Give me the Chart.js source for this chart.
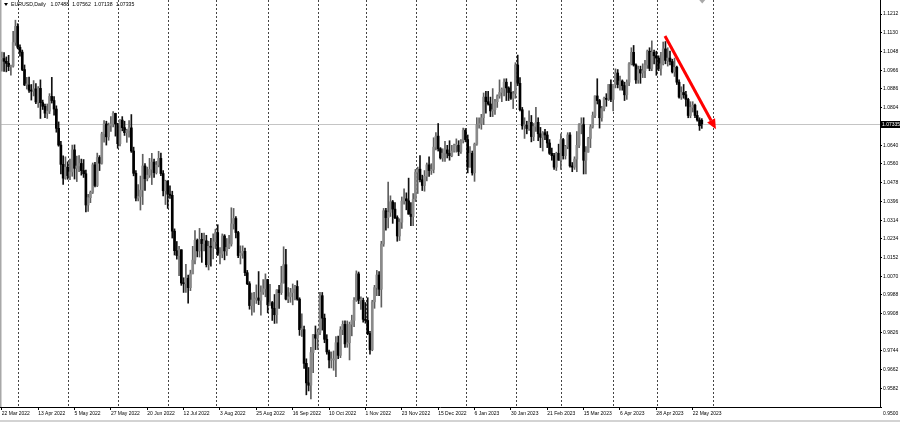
<!DOCTYPE html>
<html lang="en">
<head>
<meta charset="UTF-8">
<title>EURUSD, Daily</title>
<script src="https://cdn.jsdelivr.net/npm/chart.js"></script>
<style>
  body { margin: 0; background: #fff; }
  canvas { display: block; }
</style>
</head>
<body>
<canvas id="chart" width="900" height="422"></canvas>
<script>
// EURUSD daily bars, 22 Mar 2022 .. 26 May 2023 (309 bars)
const symbol = 'EURUSD,Daily';
const dateLabels = ['22 Mar 2022', '13 Apr 2022', '5 May 2022', '27 May 2022', '20 Jun 2022', '12 Jul 2022',
  '3 Aug 2022', '25 Aug 2022', '16 Sep 2022', '10 Oct 2022', '1 Nov 2022', '23 Nov 2022', '15 Dec 2022',
  '6 Jan 2023', '30 Jan 2023', '21 Feb 2023', '15 Mar 2023', '6 Apr 2023', '28 Apr 2023', '22 May 2023'];
const barsPerLabel = 16;

const opens = [
  1.1016,1.1018,1.1006,1.0997,1.0983,1.0985,1.1088,1.1158,1.1067,1.1046,
  1.0970,1.0903,1.0903,1.0880,1.0876,1.0886,1.0829,1.0888,1.0826,1.0810,
  1.0780,1.0789,1.0853,1.0835,1.0798,1.0714,1.0641,1.0557,1.0497,1.0545,
  1.0508,1.0524,1.0620,1.0540,1.0550,1.0561,1.0530,1.0516,1.0380,1.0412,
  1.0435,1.0555,1.0465,1.0587,1.0562,1.0690,1.0733,1.0677,1.0726,1.0733,
  1.0779,1.0733,1.0647,1.0750,1.0717,1.0695,1.0705,1.0716,1.0615,1.0518,
  1.0410,1.0417,1.0445,1.0550,1.0495,1.0510,1.0535,1.0567,1.0521,1.0554,
  1.0583,1.0517,1.0442,1.0484,1.0427,1.0422,1.0266,1.0181,1.0160,1.0185,
  1.0040,1.0037,1.0061,1.0020,1.0080,1.0140,1.0226,1.0180,1.0230,1.0212,
  1.0224,1.0120,1.0200,1.0196,1.0220,1.0260,1.0163,1.0166,1.0245,1.0180,
  1.0195,1.0210,1.0298,1.0321,1.0260,1.0160,1.0170,1.0178,1.0085,1.0037,
  0.9942,0.9966,0.9967,0.9975,0.9965,1.0000,1.0015,1.0055,0.9945,0.9955,
  0.9930,0.9902,1.0010,0.9998,1.0040,1.0120,0.9970,0.9980,0.9998,1.0015,
  1.0025,0.9970,0.9837,0.9837,0.9690,0.9605,0.9595,0.9737,0.9815,0.9800,
  0.9825,0.9985,0.9887,0.9795,0.9740,0.9705,0.9705,0.9705,0.9780,0.9725,
  0.9837,0.9860,0.9775,0.9780,0.9860,0.9877,0.9965,1.0080,0.9965,0.9965,
  0.9882,0.9877,0.9820,0.9750,0.9958,1.0020,1.0075,1.0013,1.0210,1.0355,
  1.0325,1.0348,1.0394,1.0362,1.0325,1.0245,1.0305,1.0397,1.0407,1.0398,
  1.0340,1.0330,1.0405,1.0523,1.0536,1.0490,1.0465,1.0505,1.0555,1.0530,
  1.0535,1.0632,1.0680,1.0625,1.0585,1.0606,1.0620,1.0605,1.0595,1.0615,
  1.0640,1.0640,1.0613,1.0660,1.0705,1.0665,1.0545,1.0605,1.0520,1.0645,
  1.0730,1.0735,1.0760,1.0850,1.0830,1.0820,1.0790,1.0795,1.0830,1.0855,
  1.0870,1.0885,1.0915,1.0890,1.0870,1.0845,1.0865,1.0990,1.0910,1.0795,
  1.0725,1.0728,1.0713,1.0740,1.0678,1.0722,1.0740,1.0690,1.0675,1.0695,
  1.0685,1.0650,1.0605,1.0595,1.0545,1.0605,1.0575,1.0665,1.0595,1.0635,
  1.0685,1.0550,1.0545,1.0580,1.0640,1.0730,1.0730,1.0575,1.0610,1.0670,
  1.0720,1.0770,1.0855,1.0835,1.0760,1.0800,1.0845,1.0840,1.0905,1.0840,
  1.0905,1.0955,1.0905,1.0920,1.0900,1.0860,1.0915,1.0995,1.1045,1.0990,
  1.0925,1.0970,1.0955,1.0965,1.0990,1.1050,1.0975,1.1045,1.1030,1.1020,
  1.0975,1.0995,1.1060,1.1010,1.1020,1.1005,1.0960,1.0980,1.0915,1.0850,
  1.0870,1.0860,1.0840,1.0770,1.0805,1.0815,1.0770,1.0750,1.07488
];
const highs = [
  1.1046,1.1044,1.1025,1.1032,1.0990,1.1137,1.1185,1.1170,1.1078,1.1055,
  1.0990,1.0936,1.0937,1.0905,1.0922,1.0909,1.0896,1.0925,1.0837,1.0820,
  1.0820,1.0865,1.0936,1.0852,1.0812,1.0742,1.0657,1.0594,1.0590,1.0568,
  1.0580,1.0641,1.0642,1.0593,1.0595,1.0580,1.0578,1.0532,1.0426,1.0441,
  1.0563,1.0566,1.0606,1.0595,1.0697,1.0748,1.0745,1.0737,1.0765,1.0787,
  1.0780,1.0736,1.0752,1.0765,1.0745,1.0710,1.0748,1.0774,1.0632,1.0530,
  1.0469,1.0506,1.0601,1.0560,1.0545,1.0583,1.0605,1.0580,1.0570,1.0614,
  1.0606,1.0530,1.0488,1.0486,1.0464,1.0440,1.0276,1.0221,1.0200,1.0185,
  1.0063,1.0122,1.0075,1.0096,1.0200,1.0269,1.0232,1.0278,1.0257,1.0258,
  1.0248,1.0222,1.0235,1.0254,1.0275,1.0294,1.0195,1.0254,1.0251,1.0234,
  1.0248,1.0368,1.0365,1.0330,1.0265,1.0202,1.0202,1.0192,1.0095,1.0046,
  0.9997,0.9999,1.0032,1.0090,1.0028,1.0055,1.0080,1.0056,1.0034,0.9960,
  0.9990,1.0011,1.0030,1.0113,1.0198,1.0187,1.0020,1.0017,1.0036,1.0030,
  1.0050,0.9976,0.9906,0.9852,0.9710,0.9672,0.9760,0.9817,0.9853,0.9840,
  0.9999,0.9999,0.9905,0.9815,0.9748,0.9740,0.9744,0.9807,0.9809,0.9850,
  0.9875,0.9875,0.9875,0.9870,0.9900,0.9977,1.0093,1.0088,0.9980,0.9975,
  0.9955,0.9976,0.9830,0.9965,1.0030,1.0095,1.0090,1.0222,1.0365,1.0365,
  1.0480,1.0420,1.0400,1.0390,1.0333,1.0320,1.0415,1.0450,1.0433,1.0497,
  1.0390,1.0430,1.0535,1.0545,1.0595,1.0510,1.0530,1.0563,1.0590,1.0560,
  1.0673,1.0695,1.0735,1.0630,1.0625,1.0657,1.0640,1.0660,1.0640,1.0645,
  1.0668,1.0660,1.0665,1.0715,1.0713,1.0685,1.0635,1.0615,1.0650,1.0760,
  1.0760,1.0775,1.0868,1.0875,1.0875,1.0850,1.0887,1.0840,1.0860,1.0925,
  1.0890,1.0930,1.0930,1.0895,1.0915,1.0875,1.1000,1.1033,1.0935,1.0805,
  1.0760,1.0745,1.0790,1.0770,1.0735,1.0805,1.0760,1.0718,1.0700,1.0710,
  1.0700,1.0665,1.0628,1.0605,1.0610,1.0645,1.0690,1.0670,1.0640,1.0695,
  1.0695,1.0565,1.0590,1.0700,1.0735,1.0760,1.0760,1.0635,1.0675,1.0730,
  1.0785,1.0855,1.0930,1.0840,1.0810,1.0850,1.0865,1.0905,1.0925,1.0905,
  1.0973,1.0970,1.0942,1.0925,1.0915,1.0925,1.1000,1.1065,1.1075,1.0995,
  1.0985,1.0985,1.0995,1.1010,1.1055,1.1065,1.1095,1.1055,1.1050,1.1030,
  1.1045,1.1090,1.1092,1.1065,1.1050,1.1015,1.1020,1.0985,1.0925,1.0895,
  1.0905,1.0875,1.0845,1.0830,1.0830,1.0820,1.0790,1.0760,1.07562
];
const lows = [
  1.0963,1.0962,1.0960,1.0965,1.0945,1.0980,1.1075,1.1060,1.1028,1.0965,
  1.0900,1.0885,1.0870,1.0837,1.0855,1.0821,1.0805,1.0757,1.0796,1.0760,
  1.0757,1.0778,1.0824,1.0771,1.0697,1.0636,1.0515,1.0470,1.0492,1.0492,
  1.0490,1.0505,1.0493,1.0482,1.0525,1.0510,1.0500,1.0350,1.0352,1.0390,
  1.0430,1.0459,1.0460,1.0530,1.0558,1.0654,1.0641,1.0662,1.0700,1.0720,
  1.0680,1.0627,1.0637,1.0703,1.0683,1.0653,1.0675,1.0609,1.0507,1.0398,
  1.0398,1.0358,1.0382,1.0444,1.0485,1.0500,1.0469,1.0500,1.0515,1.0546,
  1.0508,1.0420,1.0382,1.0365,1.0409,1.0236,1.0162,1.0144,1.0072,1.0030,
  0.9999,0.9999,0.9952,1.0007,1.0080,1.0123,1.0154,1.0153,1.0130,1.0180,
  1.0110,1.0097,1.0113,1.0145,1.0190,1.0160,1.0123,1.0150,1.0141,1.0160,
  1.0190,1.0201,1.0275,1.0237,1.0150,1.0123,1.0148,1.0072,1.0033,0.9926,
  0.9900,0.9913,0.9951,0.9946,0.9900,0.9990,0.9980,0.9910,0.9942,0.9877,
  0.9864,0.9865,0.9929,0.9990,1.0040,0.9966,0.9955,0.9956,0.9945,0.9967,
  0.9965,0.9812,0.9807,0.9668,0.9553,0.9570,0.9535,0.9650,0.9750,0.9750,
  0.9815,0.9835,0.9780,0.9730,0.9670,0.9670,0.9660,0.9632,0.9710,0.9715,
  0.9815,0.9760,0.9760,0.9705,0.9810,0.9850,0.9960,0.9950,0.9925,0.9870,
  0.9865,0.9815,0.9730,0.9745,0.9930,0.9985,0.9985,0.9935,1.0200,1.0270,
  1.0280,1.0330,1.0300,1.0320,1.0222,1.0225,1.0278,1.0384,1.0359,1.0340,
  1.0290,1.0290,1.0395,1.0430,1.0480,1.0443,1.0440,1.0485,1.0505,1.0513,
  1.0520,1.0620,1.0615,1.0580,1.0570,1.0570,1.0585,1.0575,1.0590,1.0610,
  1.0610,1.0595,1.0605,1.0650,1.0655,1.0520,1.0545,1.0510,1.0483,1.0640,
  1.0715,1.0710,1.0730,1.0780,1.0815,1.0765,1.0765,1.0775,1.0805,1.0845,
  1.0830,1.0855,1.0835,1.0835,1.0840,1.0800,1.0845,1.0900,1.0790,1.0710,
  1.0670,1.0690,1.0705,1.0655,1.0660,1.0700,1.0660,1.0630,1.0615,1.0665,
  1.0630,1.0600,1.0575,1.0535,1.0530,1.0575,1.0535,1.0580,1.0580,1.0625,
  1.0545,1.0525,1.0535,1.0525,1.0630,1.0690,1.0515,1.0515,1.0610,1.0630,
  1.0715,1.0760,1.0820,1.0715,1.0745,1.0790,1.0810,1.0835,1.0830,1.0790,
  1.0890,1.0890,1.0880,1.0880,1.0835,1.0840,1.0900,1.0990,1.0985,1.0910,
  1.0910,1.0910,1.0935,1.0935,1.0975,1.0965,1.0965,1.0995,1.0945,1.0965,
  1.0945,1.0990,1.0995,1.0985,1.0990,1.0955,1.0940,1.0905,1.0845,1.0840,
  1.0845,1.0810,1.0760,1.0760,1.0785,1.0760,1.0745,1.0705,1.07138
];
const closes = [
  1.1018,1.1006,1.0997,1.0983,1.0985,1.1088,1.1158,1.1067,1.1046,1.0970,
  1.0903,1.0903,1.0880,1.0876,1.0886,1.0829,1.0888,1.0826,1.0810,1.0780,
  1.0789,1.0853,1.0835,1.0798,1.0714,1.0641,1.0557,1.0497,1.0545,1.0508,
  1.0524,1.0620,1.0540,1.0550,1.0561,1.0530,1.0516,1.0380,1.0412,1.0435,
  1.0555,1.0465,1.0587,1.0562,1.0690,1.0733,1.0677,1.0726,1.0733,1.0779,
  1.0733,1.0647,1.0750,1.0717,1.0695,1.0705,1.0716,1.0615,1.0518,1.0410,
  1.0417,1.0445,1.0550,1.0495,1.0510,1.0535,1.0567,1.0521,1.0554,1.0583,
  1.0517,1.0442,1.0484,1.0427,1.0422,1.0266,1.0181,1.0160,1.0185,1.0040,
  1.0037,1.0061,1.0020,1.0080,1.0140,1.0226,1.0180,1.0230,1.0212,1.0224,
  1.0120,1.0200,1.0196,1.0220,1.0260,1.0163,1.0166,1.0245,1.0180,1.0195,
  1.0210,1.0298,1.0321,1.0260,1.0160,1.0170,1.0178,1.0085,1.0037,0.9942,
  0.9966,0.9967,0.9975,0.9965,1.0000,1.0015,1.0055,0.9945,0.9955,0.9930,
  0.9902,1.0010,0.9998,1.0040,1.0120,0.9970,0.9980,0.9998,1.0015,1.0025,
  0.9970,0.9837,0.9837,0.9690,0.9605,0.9595,0.9737,0.9815,0.9800,0.9825,
  0.9985,0.9887,0.9795,0.9740,0.9705,0.9705,0.9705,0.9780,0.9725,0.9837,
  0.9860,0.9775,0.9780,0.9860,0.9877,0.9965,1.0080,0.9965,0.9965,0.9882,
  0.9877,0.9820,0.9750,0.9958,1.0020,1.0075,1.0013,1.0210,1.0355,1.0325,
  1.0348,1.0394,1.0362,1.0325,1.0245,1.0305,1.0397,1.0407,1.0398,1.0340,
  1.0330,1.0405,1.0523,1.0536,1.0490,1.0465,1.0505,1.0555,1.0530,1.0535,
  1.0632,1.0680,1.0625,1.0585,1.0606,1.0620,1.0605,1.0595,1.0615,1.0640,
  1.0640,1.0613,1.0660,1.0705,1.0665,1.0545,1.0605,1.0520,1.0645,1.0730,
  1.0735,1.0760,1.0850,1.0830,1.0820,1.0790,1.0795,1.0830,1.0855,1.0870,
  1.0885,1.0915,1.0890,1.0870,1.0845,1.0865,1.0990,1.0910,1.0795,1.0725,
  1.0728,1.0713,1.0740,1.0678,1.0722,1.0740,1.0690,1.0675,1.0695,1.0685,
  1.0650,1.0605,1.0595,1.0545,1.0605,1.0575,1.0665,1.0595,1.0635,1.0685,
  1.0550,1.0545,1.0580,1.0640,1.0730,1.0730,1.0575,1.0610,1.0670,1.0720,
  1.0770,1.0855,1.0835,1.0760,1.0800,1.0845,1.0840,1.0905,1.0840,1.0905,
  1.0955,1.0905,1.0920,1.0900,1.0860,1.0915,1.0995,1.1045,1.0990,1.0925,
  1.0970,1.0955,1.0965,1.0990,1.1050,1.0975,1.1045,1.1030,1.1020,1.0975,
  1.0995,1.1060,1.1010,1.1020,1.1005,1.0960,1.0980,1.0915,1.0850,1.0870,
  1.0860,1.0840,1.0770,1.0805,1.0815,1.0770,1.0750,1.0725,1.07335
];

// price scale labels as printed on the right axis
const priceTicks = [1.1212, 1.1130, 1.1048, 1.0966, 1.0886, 1.0804, 1.0640, 1.0560, 1.0478, 1.0396, 1.0314,
  1.0234, 1.0152, 1.0070, 0.9988, 0.9908, 0.9826, 0.9744, 0.9662, 0.9582, 0.9500];
// bar index of the first bar of each month (period separators)
const monthStarts = [8, 30, 52, 74, 95, 118, 140, 161, 183, 205, 227, 247, 270, 289, 314];
const bidPrice = 1.07335;
// hand drawn trend arrow, in bar index / price
const arrowFrom = { x: 291.8, y: 1.1116 };
const arrowTo = { x: 314.2, y: 1.0710 };

const bullBody = '#8a8a8a', bearBody = '#000000';
const bullWick = '#606060', bearWick = '#111111';
const isBull = i => closes[i] >= opens[i];
const axisFont = '5px "Liberation Sans", Arial, sans-serif';
const priceMin = 0.95;

Chart.defaults.font.family = '"Liberation Sans", Arial, sans-serif';
Chart.defaults.font.size = 5;
Chart.defaults.color = '#000';

const bodies = opens.map((o, i) => ({ x: i, y: [Math.min(o, closes[i]), Math.max(o, closes[i])] }));
const wicks = highs.map((h, i) => ({ x: i, y: [lows[i], h] }));

const overlay = {
    id: 'overlay',
    beforeDatasetsDraw(chart) {
        const { ctx, chartArea: a, scales: { y } } = chart;
        const py = Math.round(y.getPixelForValue(bidPrice)) + 0.5;
        ctx.save();
        ctx.strokeStyle = '#c4c4c4';
        ctx.lineWidth = 1;
        ctx.beginPath();
        ctx.moveTo(a.left, py);
        ctx.lineTo(a.right, py);
        ctx.stroke();
        ctx.restore();
    },
    afterDatasetsDraw(chart) {
        const { ctx, scales: { x, y } } = chart;
        const x1 = x.getPixelForValue(arrowFrom.x), y1 = y.getPixelForValue(arrowFrom.y);
        const x2 = x.getPixelForValue(arrowTo.x), y2 = y.getPixelForValue(arrowTo.y);
        const ang = Math.atan2(y2 - y1, x2 - x1);
        const head = 10, half = 4.5;
        const bx = x2 - head * Math.cos(ang), by = y2 - head * Math.sin(ang);
        ctx.save();
        ctx.strokeStyle = '#ff0000';
        ctx.fillStyle = '#ff0000';
        ctx.lineWidth = 3;
        ctx.beginPath();
        ctx.moveTo(x1, y1);
        ctx.lineTo(bx, by);
        ctx.stroke();
        ctx.beginPath();
        ctx.moveTo(x2, y2);
        ctx.lineTo(bx + half * Math.sin(ang), by - half * Math.cos(ang));
        ctx.lineTo(bx - half * Math.sin(ang), by + half * Math.cos(ang));
        ctx.closePath();
        ctx.fill();
        ctx.restore();
    },
    afterDraw(chart) {
        const { ctx, chartArea: a, scales: { y } } = chart;
        ctx.save();
        // window frame bits
        ctx.fillStyle = '#a8a8a8';
        ctx.fillRect(0, 0, 1.5, a.bottom);
        ctx.fillRect(0, 420.5, 900, 1);
        // chart shift marker
        ctx.beginPath();
        ctx.moveTo(a.right * 0.798 - 3, 0);
        ctx.lineTo(a.right * 0.798 + 3, 0);
        ctx.lineTo(a.right * 0.798, 3.5);
        ctx.closePath();
        ctx.fill();
        // header: symbol and last bar OHLC
        const last = closes.length - 1;
        ctx.fillStyle = '#000';
        ctx.beginPath();
        ctx.moveTo(4, 3);
        ctx.lineTo(8, 3);
        ctx.lineTo(6, 6);
        ctx.closePath();
        ctx.fill();
        ctx.font = '5.2px "Liberation Sans", Arial, sans-serif';
        ctx.textBaseline = 'middle';
        let tx = 11;
        [symbol, opens[last].toFixed(5), highs[last].toFixed(5), lows[last].toFixed(5), closes[last].toFixed(5)]
            .forEach((s, k) => {
                ctx.fillText(s, tx, 4.5);
                tx += ctx.measureText(s).width + (k === 0 ? 4.5 : 3);
            });
        // lowest price label sits under the frame, as in the terminal
        ctx.font = axisFont;
        ctx.fillText(priceMin.toFixed(4), a.right + 3, a.bottom + 7);
        // bid price box
        const py = Math.round(y.getPixelForValue(bidPrice)) + 0.5;
        ctx.fillStyle = '#000';
        ctx.fillRect(a.right, py - 3.5, 20, 7);
        ctx.fillStyle = '#fff';
        ctx.fillText(bidPrice.toFixed(5), a.right + 2, py);
        ctx.restore();
    }
};

new Chart(document.getElementById('chart'), {
    type: 'bar',
    data: {
        datasets: [{
            data: bodies,
            order: 0,
            grouped: false,
            barThickness: 2,
            minBarLength: 1,
            backgroundColor: c => isBull(c.dataIndex) ? bullBody : bearBody
        }, {
            data: wicks,
            order: 1,
            grouped: false,
            barThickness: 1,
            backgroundColor: c => isBull(c.dataIndex) ? bullWick : bearWick
        }]
    },
    options: {
        responsive: false,
        animation: false,
        devicePixelRatio: 1,
        layout: { padding: 0 },
        plugins: { legend: { display: false }, tooltip: { enabled: false } },
        scales: {
            x: {
                type: 'linear',
                position: 'bottom',
                min: -0.79,
                max: 386.4,
                offset: false,
                afterBuildTicks: s => { s.ticks = dateLabels.map((d, i) => ({ value: i * barsPerLabel })); },
                afterFit: s => { s.height = 15; s.paddingLeft = 0; s.paddingRight = 0; },
                ticks: {
                    autoSkip: false,
                    maxRotation: 0,
                    align: 'start',
                    padding: 1,
                    callback: v => dateLabels[Math.round(v / barsPerLabel)]
                },
                grid: { drawOnChartArea: false, offset: false, tickLength: 3, color: '#000' },
                border: { display: true, color: '#000' }
            },
            sep: {
                type: 'linear',
                position: 'top',
                min: -0.79,
                max: 386.4,
                offset: false,
                afterBuildTicks: s => { s.ticks = monthStarts.map(v => ({ value: v - 0.7 })); },
                afterFit: s => { s.height = 0; s.paddingLeft = 0; s.paddingRight = 0; },
                ticks: { display: false },
                grid: { drawTicks: false, offset: false, color: '#444', lineWidth: 1 },
                border: { display: false, dash: [2, 2] }
            },
            y: {
                position: 'right',
                min: priceMin,
                max: 1.1273,
                afterBuildTicks: s => { s.ticks = priceTicks.map(v => ({ value: v })); },
                afterFit: s => { s.width = 20; s.paddingTop = 0; s.paddingBottom = 0; },
                ticks: {
                    autoSkip: false,
                    padding: 1,
                    callback: v => v === priceMin ? '' : v.toFixed(4)
                },
                grid: { drawOnChartArea: false, tickLength: 2, color: '#000' },
                border: { display: true, color: '#000' }
            }
        }
    },
    plugins: [overlay]
});
</script>
</body>
</html>
